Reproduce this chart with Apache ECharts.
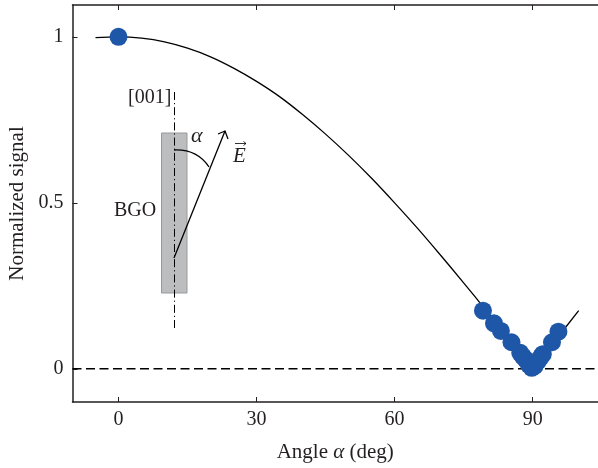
<!DOCTYPE html>
<html>
<head>
<meta charset="utf-8">
<style>html,body{margin:0;padding:0;background:#fff}#c{width:598px;height:468px}</style>
<script src="https://cdn.jsdelivr.net/npm/echarts@6/dist/echarts.min.js"></script>
</head>
<body>
<div id="c"></div>
<script>
const curveAngles = [-5,0,5,10,15,20,25,30,35,40,45,50,55,60,65,70,75,80,85,90,95,100];
const curveSignal = [0.998,1,0.996,0.985,0.966,0.94,0.906,0.866,0.82,0.766,0.707,0.643,0.574,0.5,0.423,0.342,0.259,0.174,0.087,0,0.087,0.175];
const pointAngles = [0,79.2,81.6,83.1,85.4,87.3,87.9,88.5,89.2,89.8,90.4,91.1,91.8,92.2,94.2,95.6];
const pointSignal = [1,0.175,0.137,0.114,0.08,0.048,0.037,0.028,0.012,0.003,0.008,0.022,0.036,0.044,0.08,0.112];
const xTicks = [0,30,60,90];
const yTicks = [0,0.5,1];
const baseline = [[-10,0],[104.2,0]];

const INK = '#231f20', SERIF = '"Liberation Serif", serif', FS = 20, NFS = 21;
const chart = echarts.init(document.getElementById('c'), null, {renderer:'canvas'});
const axisLine = {show:true, onZero:false, lineStyle:{color:INK, width:1.5}};
const tick = {show:true, inside:true, length:5, lineStyle:{color:INK, width:1}};
function txt(text,x,y,extra){return {type:'text',silent:true,x:x,y:y,style:Object.assign({text:text,fill:INK,font:FS+'px '+SERIF,textAlign:'left',textVerticalAlign:'middle'},extra||{})};}
function poly(pts,stroke,w,dash){return {type:'polyline',silent:true,shape:{points:pts},style:{stroke:stroke||INK,lineWidth:w||1.2,fill:null,lineDash:dash||null}};}

chart.setOption({
  animation:false,
  backgroundColor:'#fff',
  grid:{left:72.5,top:5,right:0,bottom:66,outerBoundsMode:'none'},
  xAxis:[
    {type:'value',min:-10,max:104.2,position:'bottom',axisLine:axisLine,splitLine:{show:false},
     axisTick:Object.assign({customValues:xTicks},tick),
     axisLabel:{customValues:xTicks,color:INK,fontFamily:SERIF,fontSize:FS,margin:8},
     name:'{a|Angle }{i|α}{a| (deg)}',nameLocation:'middle',nameGap:40,
     nameTextStyle:{rich:{a:{fontFamily:SERIF,fontSize:NFS,color:INK},i:{fontFamily:SERIF,fontSize:NFS,fontStyle:'italic',color:INK}}}},
    {type:'value',min:-10,max:104.2,position:'top',axisLine:axisLine,splitLine:{show:false},
     axisTick:Object.assign({customValues:xTicks},tick),axisLabel:{show:false}}
  ],
  yAxis:[
    {type:'value',min:-0.1,max:1.096,position:'left',axisLine:axisLine,splitLine:{show:false},
     axisTick:Object.assign({customValues:yTicks},tick),
     axisLabel:{customValues:yTicks,color:INK,fontFamily:SERIF,fontSize:FS,margin:9,padding:[3,0,0,0]},
     name:'Normalized signal',nameLocation:'middle',nameGap:42,
     nameTextStyle:{fontFamily:SERIF,fontSize:NFS,color:INK}}
  ],
  series:[
    {type:'line',data:baseline,symbol:'none',silent:true,z:2,lineStyle:{color:'#000',width:1.5,type:[9,4.5]}},
    {type:'line',data:curveAngles.map((a,i)=>[a,curveSignal[i]]),symbol:'none',smooth:0.35,silent:true,z:3,lineStyle:{color:'#000',width:1.3}},
    {type:'scatter',data:pointAngles.map((a,i)=>[a,pointSignal[i]]),symbol:'circle',symbolSize:18,silent:true,z:4,itemStyle:{color:'#1f57a8',opacity:1}}
  ],
  graphic:{elements:[
    {type:'rect',silent:true,shape:{x:161.5,y:133,width:25.5,height:160},style:{fill:'#bbbdbf',stroke:'#98999b',lineWidth:1}},
    poly([[174.5,92],[174.5,328]],'#000',1,[8,3,1.2,3]),
    poly([[174,258],[225,131]],'#000',1.3),
    poly([[218,134],[225,131],[228,139]],'#000',1.3),
    {type:'bezierCurve',silent:true,shape:{x1:174,y1:150,x2:209,y2:167,cpx1:197,cpy1:149},style:{stroke:'#000',lineWidth:1.3,fill:null}},
    txt('[001]',128,98),
    txt('α',191,136,{font:'italic 22px '+SERIF}),
    txt('E',233,156,{font:'italic 21px '+SERIF}),
    poly([[235,143.5],[246,143.5]],'#000',0.8),
    poly([[243.5,141.5],[246,143.5],[243.5,145.5]],'#000',0.8),
    txt('BGO',114,211)
  ]}
});
</script>
</body>
</html>
